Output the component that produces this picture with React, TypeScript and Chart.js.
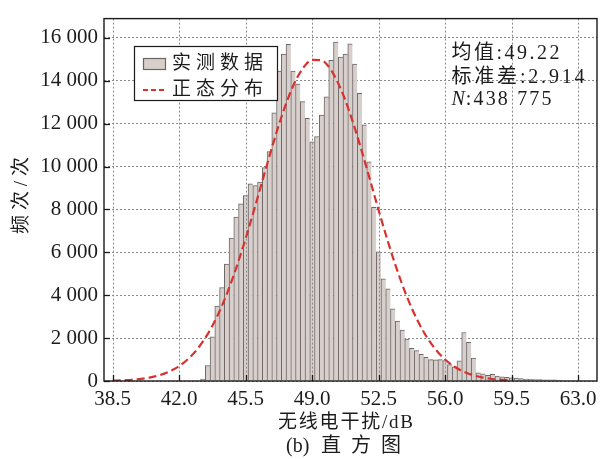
import React, { useEffect, useRef } from 'react';
import { Chart, registerables } from 'chart.js';

Chart.register(...registerables);

// ---------- data ----------
const BIN_START = 43.25;
const BIN_WIDTH = 0.25;
const counts = [
  90, 720, 2060, 3490, 4360, 5450, 6660, 7640, 8260, 8650,
  9200, 9110, 9280, 9950, 10700, 12500, 14450, 15250, 15700, 14450,
  13850, 13030, 12250, 11150, 11400, 12400, 13250, 14950, 15800, 15100,
  15250, 15720, 14780, 13420, 11950, 10220, 8100, 6020, 4760, 4300,
  3360, 2800, 2380, 1960, 1520, 1420, 1240, 1100, 1000, 990,
  1000, 950, 760, 660, 940, 2260, 1800, 1070, 380, 330,
  270, 310, 230, 200, 170, 150, 135, 110, 85, 75,
  70, 65, 60, 55, 50, 45,
];
const binCenters = counts.map((_, i) => BIN_START + i * BIN_WIDTH);

const curveX = [
  38.5, 39.0, 39.5, 40.0, 40.5, 41.0, 41.5, 42.0, 42.5, 43.0, 43.5,
  44.0, 44.5, 45.0, 45.5, 46.0, 46.5, 47.0, 47.5, 48.0, 48.5, 49.0,
  49.5, 50.0, 50.5, 51.0, 51.5, 52.0, 52.5, 53.0, 53.5, 54.0, 54.5,
  55.0, 55.5, 56.0, 56.5, 57.0, 57.5, 58.0, 58.5, 59.0, 59.5,
];
const curveY = [
  17, 32, 58, 101, 171, 281, 449, 697, 1051, 1539, 2186,
  3019, 4044, 5264, 6649, 8156, 9715, 11235, 12617, 13758, 14568, 14975,
  14949, 14490, 13636, 12462, 11058, 9527, 7970, 6474, 5108, 3911, 2909,
  2099, 1472, 1002, 663, 425, 265, 160, 94, 54, 30,
];

const xTicks = [38.5, 42.0, 45.5, 49.0, 52.5, 56.0, 59.5, 63.0];
const yTicks = [0, 2000, 4000, 6000, 8000, 10000, 12000, 14000, 16000];

const legendLabels = ['实测数据', '正态分布'];
const statLabels = ['均值', '标准差', 'N'];
const statValues = ['49.22', '2.914', '438 775'];
const xTitle = '无线电干扰/dB';
const yTitle = '频次/次';
const captionTag = '(b)';
const captionText = '直方图';

// ---------- styles ----------
const BAR_FILL = '#d7cfcc';
const BAR_EDGE = '#6d6464';
const RED = '#d8322e';
const GRID = '#8a8a8a';
const TEXT = '#1c1c1c';
const FONT = "'Liberation Serif', 'Noto Sans CJK SC', serif";

function fitText(ctx: CanvasRenderingContext2D, text: string, x: number, y: number, width: number, align: 'left' | 'center') {
  (ctx as any).letterSpacing = '0px';
  const w0 = ctx.measureText(text).width;
  const n = Array.from(text).length;
  const ls = n > 1 ? (width - w0) / (n - 1) : 0;
  (ctx as any).letterSpacing = ls + 'px';
  const sx = align === 'center' ? x - width / 2 : x;
  ctx.textAlign = 'left';
  ctx.fillText(text, sx, y);
  (ctx as any).letterSpacing = '0px';
}

const decor = {
  id: 'decor',
  afterDatasetDraw(chart: any, args: any) {
    if (args.index !== 0) return;
    const { ctx, chartArea: a } = chart;
    const xs = chart.scales.x;
    ctx.save();
    ctx.strokeStyle = GRID;
    ctx.lineWidth = 1;
    ctx.setLineDash([2, 2]);
    xTicks.forEach((v) => {
      const px = Math.round(xs.getPixelForValue(v)) + 0.5;
      ctx.beginPath();
      ctx.moveTo(px, a.top);
      ctx.lineTo(px, a.bottom);
      ctx.stroke();
    });
    ctx.restore();
  },
  afterDraw(chart: any) {
    const { ctx, chartArea: a } = chart;
    const xs = chart.scales.x;
    const ys = chart.scales.y;
    ctx.save();
    // frame
    ctx.strokeStyle = '#1a1a1a';
    ctx.lineWidth = 1.4;
    ctx.setLineDash([]);
    ctx.strokeRect(a.left, a.top, a.right - a.left, a.bottom - a.top);
    // inward ticks
    ctx.lineWidth = 1.3;
    xTicks.forEach((v) => {
      const px = Math.round(xs.getPixelForValue(v)) + 0.5;
      ctx.beginPath();
      ctx.moveTo(px, a.bottom);
      ctx.lineTo(px, a.bottom - 6);
      ctx.stroke();
    });
    yTicks.forEach((v) => {
      const py = Math.round(ys.getPixelForValue(v)) + 0.5;
      ctx.beginPath();
      ctx.moveTo(a.left, py);
      ctx.lineTo(a.left + 6, py);
      ctx.stroke();
    });

    // legend
    ctx.fillStyle = '#ffffff';
    ctx.fillRect(134.5, 46.5, 143, 54);
    ctx.strokeStyle = '#1a1a1a';
    ctx.lineWidth = 1.2;
    ctx.strokeRect(134.5, 46.5, 143, 54);
    ctx.fillStyle = BAR_FILL;
    ctx.fillRect(143.5, 58.5, 22, 11);
    ctx.strokeStyle = BAR_EDGE;
    ctx.lineWidth = 1.2;
    ctx.strokeRect(143.5, 58.5, 22, 11);
    ctx.strokeStyle = RED;
    ctx.lineWidth = 2;
    ctx.setLineDash([5, 3]);
    ctx.beginPath();
    ctx.moveTo(143, 90);
    ctx.lineTo(166, 90);
    ctx.stroke();
    ctx.setLineDash([]);
    ctx.fillStyle = TEXT;
    ctx.textBaseline = 'middle';
    ctx.font = `19px ${FONT}`;
    fitText(ctx, legendLabels[0], 172, 64.5, 91, 'left');
    fitText(ctx, legendLabels[1], 172, 90, 91, 'left');

    // stats
    ctx.textBaseline = 'alphabetic';
    ctx.font = `20px ${FONT}`;
    fitText(ctx, `${statLabels[0]}:${statValues[0]}`, 451.5, 58.5, 108, 'left');
    fitText(ctx, `${statLabels[1]}:${statValues[1]}`, 451.5, 82.5, 133, 'left');
    ctx.font = `italic 20px ${FONT}`;
    ctx.textAlign = 'left';
    ctx.fillText(statLabels[2], 451.5, 105);
    const nw = ctx.measureText(statLabels[2]).width;
    ctx.font = `20px ${FONT}`;
    fitText(ctx, `:${statValues[2]}`, 451.5 + nw + 1, 105, 100 - nw - 1, 'left');

    // axis titles
    ctx.textBaseline = 'middle';
    ctx.font = `19px ${FONT}`;
    fitText(ctx, xTitle, 345.5, 423, 135, 'center');
    ctx.font = `20px ${FONT}`;
    ctx.textAlign = 'left';
    ctx.fillText(captionTag, 286, 446.5);
    fitText(ctx, captionText, 321, 446.5, 80, 'left');
    ctx.save();
    ctx.translate(22, 195.5);
    ctx.rotate(-Math.PI / 2);
    ctx.font = `19px ${FONT}`;
    fitText(ctx, yTitle, 0, 0, 77, 'center');
    ctx.restore();
    ctx.restore();
  },
};

function fmtY(v: number) {
  if (v === 0) return '0';
  return `${Math.floor(v / 1000)} ${String(v % 1000).padStart(3, '0')}`;
}

export default function App() {
  const ref = useRef<HTMLCanvasElement | null>(null);
  useEffect(() => {
    if (!ref.current) return;
    const chart = new Chart(ref.current, {
      type: 'bar',
      data: {
        datasets: [
          {
            type: 'bar',
            data: counts.map((c, i) => ({ x: binCenters[i], y: c })),
            backgroundColor: BAR_FILL,
            borderColor: BAR_EDGE,
            borderWidth: { left: 1, top: 1, right: 0, bottom: 0 } as any,
            borderSkipped: false,
            barPercentage: 1,
            categoryPercentage: 1,
            order: 1,
          } as any,
          {
            type: 'line',
            data: curveX.map((x, i) => ({ x, y: curveY[i] })),
            borderColor: RED,
            borderWidth: 2.2,
            borderDash: [8, 4],
            pointRadius: 0,
            fill: false,
            cubicInterpolationMode: 'monotone',
            order: 0,
          } as any,
        ],
      },
      options: {
        responsive: false,
        animation: false,
        devicePixelRatio: 1,
        layout: { padding: { left: 0, right: 8, top: 10, bottom: 0 } },
        plugins: { legend: { display: false }, tooltip: { enabled: false } },
        scales: {
          x: {
            type: 'linear',
            min: 38.04,
            max: 64.0,
            offset: false,
            grid: { display: false, drawTicks: false, offset: false },
            border: { display: false },
            ticks: {
              padding: 6,
              color: TEXT,
              font: { family: "'Liberation Serif', serif", size: 21 },
              autoSkip: false,
              maxRotation: 0,
              callback: (v: any) => Number(v).toFixed(1),
            },
            afterBuildTicks: (s: any) => {
              s.ticks = xTicks.map((v) => ({ value: v }));
            },
            afterFit: (s: any) => {
              s.height = 78;
            },
          },
          y: {
            type: 'linear',
            min: 0,
            max: 16900,
            grid: { color: GRID, lineWidth: 1, drawTicks: false },
            border: { display: false, dash: [2, 2] },
            ticks: {
              padding: 6,
              color: TEXT,
              font: { family: "'Liberation Serif', serif", size: 21 },
              callback: (v: any) => fmtY(Number(v)),
            },
            afterBuildTicks: (s: any) => {
              s.ticks = yTicks.map((v) => ({ value: v }));
            },
            afterFit: (s: any) => {
              s.width = 104;
            },
          },
        },
      } as any,
      plugins: [decor],
    });
    return () => chart.destroy();
  }, []);
  return (
    <div style={{ position: 'fixed', left: 0, top: 0, width: 605, height: 459, background: '#fff' }}>
      <canvas ref={ref} width={605} height={459} style={{ display: 'block' }} />
    </div>
  );
}
